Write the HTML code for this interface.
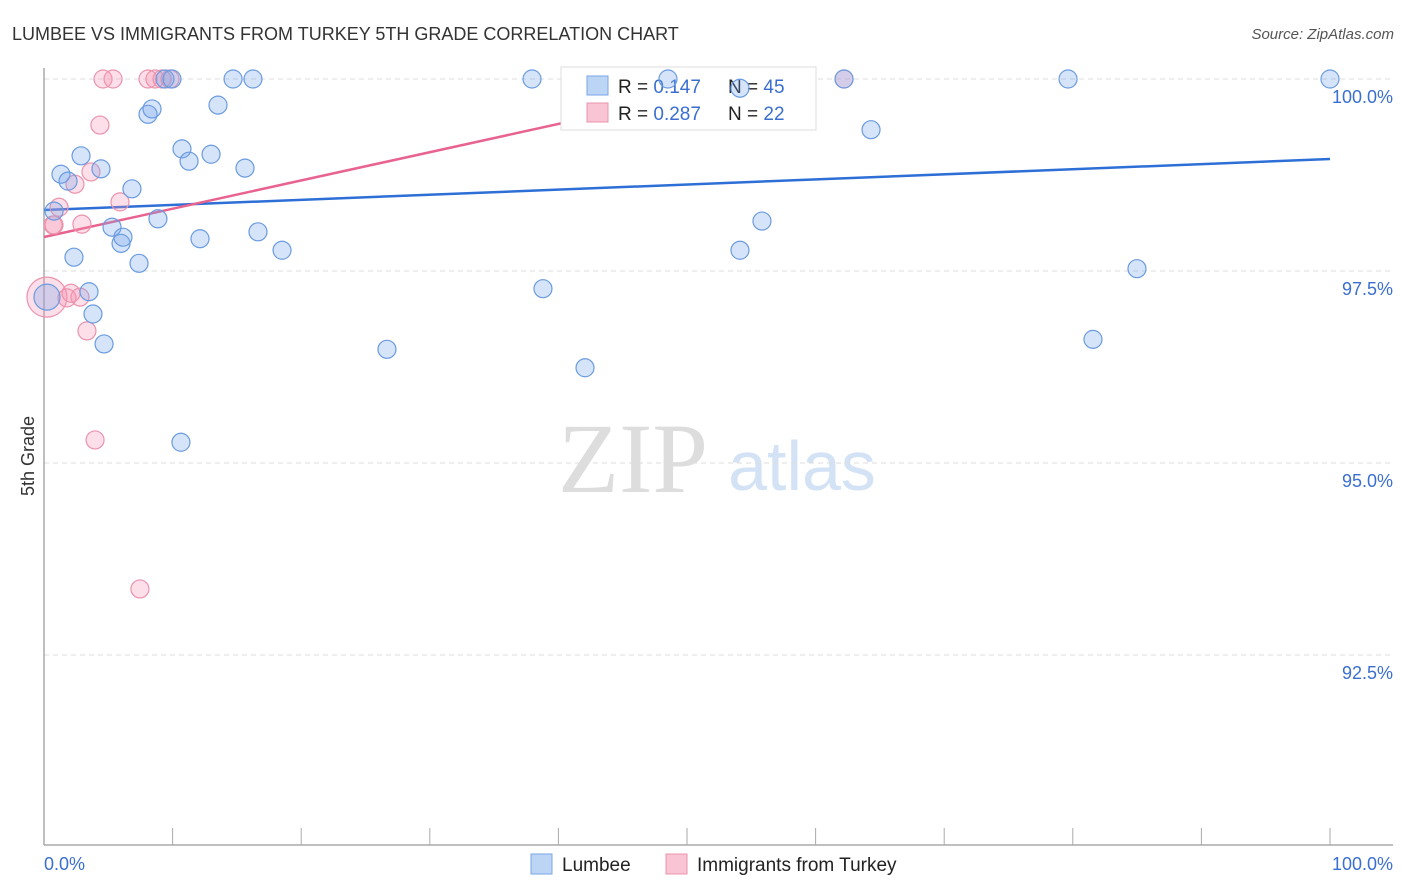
<!DOCTYPE html>
<html><head><meta charset="utf-8">
<style>
body{margin:0;background:#fff;width:1406px;height:892px;overflow:hidden;font-family:"Liberation Sans",sans-serif}
svg{position:absolute;left:0;top:0}
</style></head>
<body>
<svg id="chart" width="1406" height="892">
<text x="12" y="40" font-size="18" fill="#333">LUMBEE VS IMMIGRANTS FROM TURKEY 5TH GRADE CORRELATION CHART</text>
<text x="1394" y="39" font-size="15" fill="#555" font-style="italic" text-anchor="end">Source: ZipAtlas.com</text>
<text x="633" y="492" font-size="100" fill="#ddd" font-family="Liberation Serif,serif" text-anchor="middle">ZIP</text>
<text x="802" y="490" font-size="70" fill="#d4e2f6" text-anchor="middle">atlas</text>
<text transform="translate(34,456) rotate(-90)" font-size="18" fill="#333" text-anchor="middle">5th Grade</text>
<g id="grid"></g><g id="axes"></g><g id="lines"></g>
<g>
<rect x="561" y="67" width="255" height="63" fill="#fff" stroke="#ddd"/>
<rect x="587" y="76" width="21" height="19" fill="#bcd5f5" stroke="#7aa6e6"/>
<rect x="587" y="103" width="21" height="19" fill="#f9c4d3" stroke="#ec93ad"/>
<text x="618" y="93" font-size="19" fill="#222">R = <tspan fill="#3a6fcf">0.147</tspan></text>
<text x="728" y="93" font-size="19" fill="#222">N = <tspan fill="#3a6fcf">45</tspan></text>
<text x="618" y="120" font-size="19" fill="#222">R = <tspan fill="#3a6fcf">0.287</tspan></text>
<text x="728" y="120" font-size="19" fill="#222">N = <tspan fill="#3a6fcf">22</tspan></text>
</g>
<g id="points"></g>
<g>
<rect x="531" y="854" width="21" height="20" fill="#bcd5f5" stroke="#7aa6e6"/>
<text x="562" y="871" font-size="19" fill="#222">Lumbee</text>
<rect x="666" y="854" width="21" height="20" fill="#f9c4d3" stroke="#ec93ad"/>
<text x="697" y="871" font-size="19" fill="#222">Immigrants from Turkey</text>
</g>
</svg>
<script>
const yTicks=[100,97.5,95,92.5];
const yTickLabels=["100.0%","97.5%","95.0%","92.5%"];
const xLabels=["0.0%","100.0%"];
const blueX=[0.23,0.78,1.32,1.87,2.33,2.88,3.50,3.81,4.43,4.67,5.29,5.99,6.14,6.84,7.39,8.09,8.40,8.86,9.41,9.95,10.65,10.73,11.28,12.13,12.99,13.53,14.70,15.63,16.25,16.64,18.51,26.67,37.95,38.80,42.07,48.52,54.12,54.12,55.83,62.21,64.31,79.63,81.57,84.99,100];
const blueY=[97.16,98.28,98.76,98.67,97.68,99.00,97.23,96.94,98.83,96.55,98.07,97.86,97.94,98.57,97.60,99.54,99.61,98.18,100,100,95.27,99.09,98.93,97.92,99.02,99.66,100,98.84,100,98.01,97.77,96.48,100,97.27,96.24,100,99.88,97.77,98.15,100,99.34,100,96.61,97.53,100];
const pinkX=[0.23,0.70,0.78,1.17,1.79,2.10,2.41,2.80,2.95,3.34,3.65,3.97,4.35,4.59,5.37,5.91,7.46,8.09,8.63,9.18,9.80,62.21];
const pinkY=[97.16,98.10,98.10,98.33,97.15,97.21,98.63,97.16,98.11,96.72,98.79,95.30,99.40,100,100,98.40,93.36,100,100,100,100,100];
const blueLine=[[0,98.294],[100,98.958]];
const pinkLine=[[0,97.943],[55.9,100]];
const X=v=>44+v*12.86, Y=v=>79+(100-v)*76.8;
const NS="http://www.w3.org/2000/svg";
function mk(t,a,p){const e=document.createElementNS(NS,t);for(const k in a)e.setAttribute(k,a[k]);p.appendChild(e);return e;}
const grid=document.getElementById('grid'),axes=document.getElementById('axes'),lines=document.getElementById('lines'),pts=document.getElementById('points');
yTicks.forEach((t,i)=>{
 const l=mk('line',{x1:44,x2:1393,y1:Y(t),y2:Y(t),stroke:'#ddd','stroke-dasharray':'5,4'},grid);
 
 
 const tx=mk('text',{x:1393,y:Y(t)+24,'font-size':18,fill:'#3a6fcf','text-anchor':'end'},grid);
 tx.textContent=yTickLabels[i];
 
 
});
const ya=mk('line',{x1:44,x2:44,y1:68,y2:845,stroke:'#aaa','stroke-width':1.5},axes);


const xa=mk('line',{x1:44,x2:1393,y1:845,y2:845,stroke:'#aaa','stroke-width':1.5},axes);


for(let i=0;i<=10;i++){const t=mk('line',{x1:X(i*10),x2:X(i*10),y1:828,y2:845,stroke:'#aaa'},axes);
 
 }
[[0,'start'],[100,'end']].forEach((d,i)=>{const t=mk('text',{x:i?1393:44,y:870,'font-size':18,fill:'#3a6fcf','text-anchor':d[1]},axes);t.textContent=xLabels[i];
 
 });
const bl=mk('line',{x1:X(blueLine[0][0]),y1:Y(blueLine[0][1]),x2:X(blueLine[1][0]),y2:Y(blueLine[1][1]),stroke:'#2d6fd6','stroke-width':2.5},lines);


const pl=mk('line',{x1:X(pinkLine[0][0]),y1:Y(pinkLine[0][1]),x2:X(pinkLine[1][0]),y2:Y(pinkLine[1][1]),stroke:'#e8638f','stroke-width':2.5},lines);


pinkX.forEach((x,i)=>{const c=mk('circle',{cx:X(x),cy:Y(pinkY[i]),r:i==0?20:9,fill:'rgba(244,150,180,0.3)',stroke:'#ec93ad','stroke-width':1.2},pts);
 
 });
blueX.forEach((x,i)=>{const c=mk('circle',{cx:X(x),cy:Y(blueY[i]),r:i==0?13:9,fill:'rgba(120,165,235,0.3)',stroke:'#6a9be0','stroke-width':1.2},pts);
 
 });
</script>
</body></html>
